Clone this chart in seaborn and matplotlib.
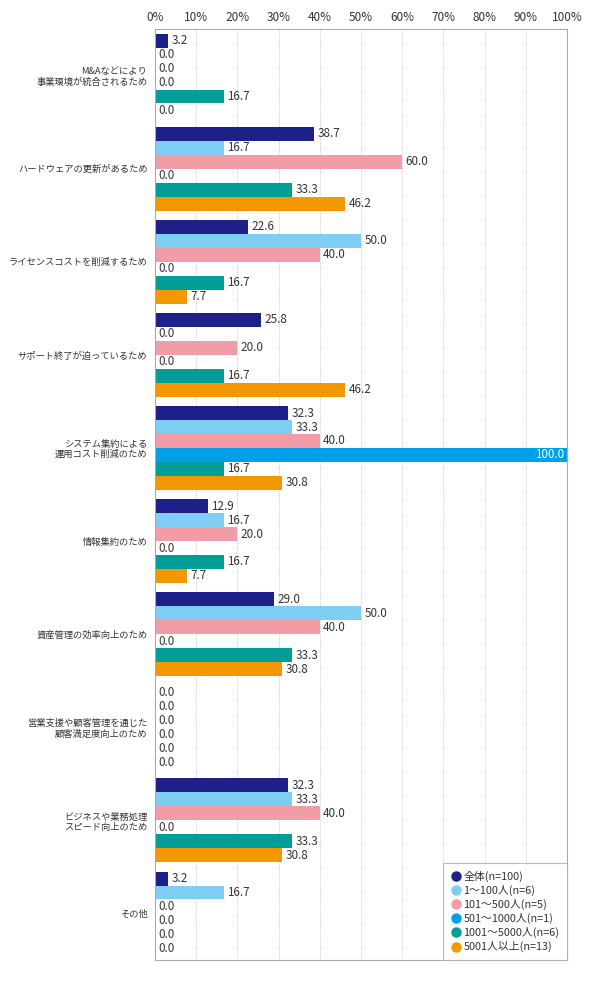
import numpy as np
import pandas as pd
import matplotlib
matplotlib.use("Agg")
import matplotlib.pyplot as plt
from matplotlib.lines import Line2D
import seaborn as sns

# data
categories = [
    "M&Aなどにより\n事業環境が統合されるため",
    "ハードウェアの更新があるため",
    "ライセンスコストを削減するため",
    "サポート終了が迫っているため",
    "システム集約による\n運用コスト削減のため",
    "情報集約のため",
    "資産管理の効率向上のため",
    "営業支援や顧客管理を通じた\n顧客満足度向上のため",
    "ビジネスや業務処理\nスピード向上のため",
    "その他",
]
series = ["全体(n=100)", "1～100人(n=6)", "101～500人(n=5)",
          "501～1000人(n=1)", "1001～5000人(n=6)", "5001人以上(n=13)"]
all_total = [3.2, 38.7, 22.6, 25.8, 32.3, 12.9, 29.0, 0.0, 32.3, 3.2]
s_1_100 = [0.0, 16.7, 50.0, 0.0, 33.3, 16.7, 50.0, 0.0, 33.3, 16.7]
s_101_500 = [0.0, 60.0, 40.0, 20.0, 40.0, 20.0, 40.0, 0.0, 40.0, 0.0]
s_501_1000 = [0.0, 0.0, 0.0, 0.0, 100.0, 0.0, 0.0, 0.0, 0.0, 0.0]
s_1001_5000 = [16.7, 33.3, 16.7, 16.7, 16.7, 16.7, 33.3, 0.0, 33.3, 0.0]
s_5001 = [0.0, 46.2, 7.7, 46.2, 30.8, 7.7, 30.8, 0.0, 30.8, 0.0]
colors = ["#1d2088", "#7ecef4", "#f19ca7", "#00a0e9", "#009e96", "#f39800"]

values = [all_total, s_1_100, s_101_500, s_501_1000, s_1001_5000, s_5001]
rows = []
for s, vals in zip(series, values):
    for c, v in zip(categories, vals):
        rows.append({"cat": c, "series": s, "value": v})
df = pd.DataFrame(rows)

sns.set_style("white")
plt.rcParams["font.family"] = ["Noto Sans CJK JP", "DejaVu Sans"]

fig = plt.figure(figsize=(5.9, 9.83), dpi=100)
ax = fig.add_axes([155 / 590, 1 - 960 / 983, 412 / 590, 931 / 983])

sns.barplot(data=df, y="cat", x="value", hue="series", order=categories,
            hue_order=series, palette=colors, orient="h", width=0.9,
            saturation=1, ax=ax, legend=False, errorbar=None,
            linewidth=0, edgecolor="none")

for cont in ax.containers:
    for bar in cont:
        w = bar.get_width()
        y = bar.get_y() + bar.get_height() / 2
        if w >= 99:
            ax.text(w - 0.8, y, f"{w:.1f}", va="center", ha="right",
                    color="white", fontsize=8.4)
        else:
            ax.text(w + 0.8, y, f"{w:.1f}", va="center", ha="left",
                    color="#333333", fontsize=8.4)

ax.set_xlim(0, 100)
ax.set_ylim(len(categories) - 0.5, -0.5)
ax.set_xticks(np.arange(0, 101, 10))
ax.set_xticklabels([f"{t}%" for t in range(0, 101, 10)], fontsize=8.5, color="#333333")
ax.xaxis.tick_top()
ax.tick_params(axis="x", length=0, pad=3.5)
ax.tick_params(axis="y", length=0, pad=5.5, labelsize=6.7, labelcolor="#333333")
for lab in ax.get_yticklabels():
    lab.set_linespacing(1.15)
ax.set_xlabel("")
ax.set_ylabel("")
ax.grid(axis="x", linestyle=(0, (1, 1.5)), color="#bbbbbb", linewidth=0.6)
ax.set_axisbelow(True)
for sp in ax.spines.values():
    sp.set_color("#aaaaaa")
    sp.set_linewidth(0.8)

handles = [Line2D([0], [0], marker="o", linestyle="", markersize=6.5,
                  markerfacecolor=c, markeredgecolor=c) for c in colors]
leg = ax.legend(handles, series, loc="lower right", fontsize=7.8, frameon=True,
                fancybox=False, edgecolor="#aaaaaa", handletextpad=0.2,
                labelspacing=0.28, borderpad=0.7, handlelength=1.0,
                borderaxespad=0.0)
leg.get_frame().set_linewidth(0.8)
for t in leg.get_texts():
    t.set_color("#333333")

fig.savefig("out.png", dpi=100)
